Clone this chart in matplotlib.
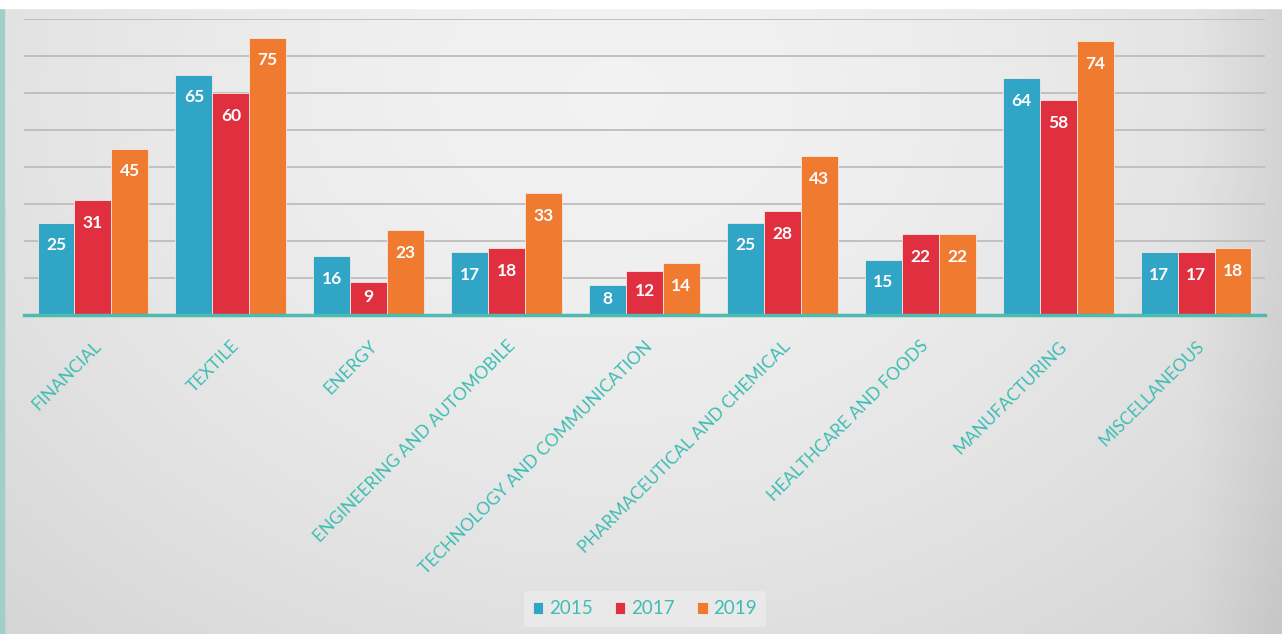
import numpy as np
import matplotlib.pyplot as plt

# Données
categories = ['FINANCIAL', 'TEXTILE', 'ENERGY', 'ENGINEERING AND AUTOMOBILE',
              'TECHNOLOGY AND COMMUNICATION', 'PHARMACEUTICAL AND CHEMICAL',
              'HEALTHCARE AND FOODS', 'MANUFACTURING', 'MISCELLANEOUS']
years = ['2015', '2017', '2019']
v2015 = [25, 65, 16, 17, 8, 25, 15, 64, 17]
v2017 = [31, 60, 9, 18, 12, 28, 22, 58, 17]
v2019 = [45, 75, 23, 33, 14, 43, 22, 74, 18]
series = [v2015, v2017, v2019]
colors = ['#31a5c6', '#e0303f', '#ef7a30']
teal = '#3dbdb3'

plt.rcParams['font.family'] = ['Lato', 'DejaVu Sans']

fig = plt.figure(figsize=(12.82, 6.34), dpi=100)

# Fond dégradé gris
bg = fig.add_axes([0, 0, 1, 1])
xx, yy = np.meshgrid(np.linspace(0, 1, 400), np.linspace(0, 1, 200))
d = np.sqrt(((xx - 0.48) / 0.8) ** 2 + ((yy - 0.15) / 1.3) ** 2)
shade = 0.95 - 0.14 * np.clip(d, 0, 1) ** 1.6
shade = shade - 0.05 * np.clip((xx - 0.93) / 0.07, 0, 1)
bg.imshow(np.dstack([shade] * 3), aspect='auto', extent=[0, 1, 1, 0])
bg.axvspan(0, 0.0035, color='#9fcfc8')
bg.axhspan(0, 0.012, color='white')
bg.set_xlim(0, 1)
bg.set_ylim(1, 0)
bg.axis('off')

ax = fig.add_axes([24 / 1282, 1 - 315 / 634, 1241 / 1282, 296 / 634])
ax.patch.set_alpha(0)

x = np.arange(len(categories))
w = 0.268
for i, (vals, c) in enumerate(zip(series, colors)):
    pos = x + (i - 1) * w
    ax.bar(pos, vals, w, color=c, edgecolor='#f3e9e2', linewidth=0.6, label=years[i], zorder=3)
    for p, v in zip(pos, vals):
        ypos = max(v - 6.2, v * 0.55)
        ax.text(p, ypos, str(v), color='white', fontsize=12.5, fontweight='bold',
                ha='center', va='center', zorder=4)

ax.set_xlim(-0.5, len(categories) - 0.5)
ax.set_ylim(0, 80)
ax.set_yticks(np.arange(10, 81, 10))
ax.yaxis.grid(True, color='#c0c0c0', linewidth=1.4, zorder=0)
ax.tick_params(axis='y', left=False, labelleft=False)
ax.tick_params(axis='x', bottom=False, pad=13)
for s in ['top', 'right', 'left']:
    ax.spines[s].set_visible(False)
ax.spines['bottom'].set_color('#4dbbb0')
ax.spines['bottom'].set_linewidth(2.5)
ax.spines['bottom'].set_zorder(5)

ax.set_xticks(x)
ax.set_xticklabels(categories, rotation=45, ha='right', va='top',
                   rotation_mode='anchor', color=teal, fontsize=12.5)

leg = fig.legend(loc='center', bbox_to_anchor=(0.503, 1 - 609 / 634), ncol=3,
                 frameon=True, fontsize=13.5, handlelength=0.55, handleheight=0.55,
                 handletextpad=0.3, columnspacing=1.2, borderpad=0.5)
leg.get_frame().set_facecolor('#ececec')
leg.get_frame().set_edgecolor('none')
leg.get_frame().set_alpha(0.8)
for t in leg.get_texts():
    t.set_color(teal)

fig.savefig('out.png', dpi=100)
